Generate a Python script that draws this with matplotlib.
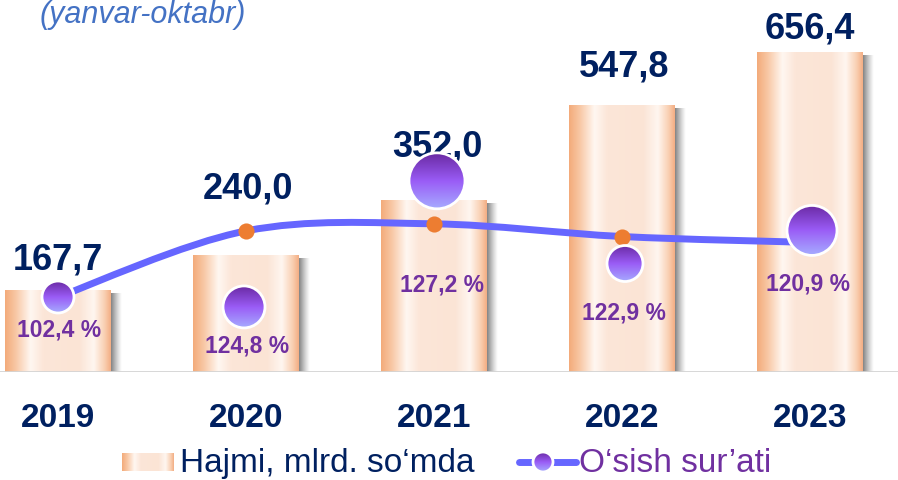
import numpy as np
import matplotlib.pyplot as plt
from matplotlib.colors import LinearSegmentedColormap
from matplotlib.patches import Ellipse, PathPatch
from matplotlib.path import Path

plt.rcParams['font.family'] = ['Liberation Sans', 'DejaVu Sans']

years = ['2019', '2020', '2021', '2022', '2023']
volume = [167.7, 240.0, 352.0, 547.8, 656.4]          # mlrd. so'm
growth = [102.4, 124.8, 127.2, 122.9, 120.9]          # %
volume_labels = ['167,7', '240,0', '352,0', '547,8', '656,4']
growth_labels = ['102,4 %', '124,8 %', '127,2 %', '122,9 %', '120,9 %']

# label / bubble placement in pixels (as in the original slide)
vol_off = [(0, 21), (2, 57), (3, 44), (2, 29), (0, 14)]
pct_off = [(1, -40), (1, -122), (8, -68), (2, -83), (-2, -48)]
bub_off = [(0, 0), (-2, -76), (3, 43), (3, -27), (2, 12)]
bub_r = [16, 21, 28, 18, 25]

NAVY = '#002060'
PURPLE = '#7030a0'
LINE = '#6666ff'
ORANGE = '#ed7d31'

W, H = 898, 480
fig = plt.figure(figsize=(W / 100, H / 100), dpi=100)
base = 108
ax = fig.add_axes([0, base / H, 1, 1 - base / H])
x = np.arange(len(years))
xlim = (-58 / 188, (W - 58) / 188)
ylim = (0, (H - base) / 0.486)
ax.set_xlim(xlim)
ax.set_ylim(ylim)
for s in ax.spines.values():
    s.set_visible(False)
ax.set_yticks([])
ax.set_xticks(x, years, fontsize=24, fontweight='bold', color=NAVY)
ax.tick_params(axis='x', length=0, pad=22)

bar_cmap = LinearSegmentedColormap.from_list('bar', [
    (0, '#f3ab7a'), (0.1, '#f8c7a4'), (0.24, '#fff7f1'), (0.36, '#fce6d8'),
    (0.7, '#fbe4d5'), (0.84, '#fff6f0'), (0.94, '#f9d0b3'), (1, '#f3ae84')])
ramp = np.linspace(0, 1, 256).reshape(1, -1)

bars = ax.bar(x, volume, width=0.56, facecolor='none', edgecolor='none')
px_x = 188
px_y = 0.486
shadow = np.zeros((1, 64, 4))
shadow[..., :3] = 0.45
shadow[..., 3] = np.linspace(0.9, 0, 64) ** 1.2
for b in bars:
    x0, w, h = b.get_x(), b.get_width(), b.get_height()
    ax.imshow(shadow, extent=[x0 + w, x0 + w + 11 / px_x, 0, h - 3 / px_y],
              aspect='auto', zorder=1.5, interpolation='bilinear')
    ax.imshow(ramp, extent=[x0, x0 + w, 0, h], cmap=bar_cmap, aspect='auto',
              zorder=2, interpolation='bilinear')
ax.axhline(0, color='#d4d4d4', lw=2, zorder=2.5)

for i, (v, lab) in enumerate(zip(volume, volume_labels)):
    ax.annotate(lab, (i, v), xytext=vol_off[i], textcoords='offset pixels',
                ha='center', va='baseline', fontsize=26, fontweight='bold',
                color=NAVY, zorder=3)
ax.set_xlim(xlim)
ax.set_ylim(ylim)

# growth line on secondary axis
ax2 = ax.twinx()
g_px = 2.95
g0 = 102.4 - 75 / g_px
ylim2 = (g0, g0 + (H - base) / g_px)
ax2.set_ylim(ylim2)
ax2.set_xlim(xlim)
ax2.axis('off')

pts = np.column_stack([x, growth]).astype(float)
ext = np.vstack([pts[0], pts, pts[-1]])
verts = [tuple(pts[0])]
codes = [Path.MOVETO]
for k in range(1, len(ext) - 2):
    p0, p1, p2, p3 = ext[k - 1], ext[k], ext[k + 1], ext[k + 2]
    c1 = p1 + (p2 - p0) / 6
    c2 = p2 - (p3 - p1) / 6
    verts += [tuple(c1), tuple(c2), tuple(p2)]
    codes += [Path.CURVE4] * 3
ax2.add_patch(PathPatch(Path(verts, codes), facecolor='none', edgecolor=LINE,
                        lw=5, capstyle='round', zorder=3))
ax2.scatter(x, growth, s=135, color=ORANGE, zorder=4, linewidths=0)

bub_cmap = LinearSegmentedColormap.from_list('bub', [
    (0, '#6a2aa3'), (0.5, '#9a5cf6'), (1, '#a6acff')])
vramp = np.linspace(0, 1, 128).reshape(-1, 1)
for i, g in enumerate(growth):
    cx = i + bub_off[i][0] / px_x
    cy = g + bub_off[i][1] / g_px
    rw, rh = bub_r[i] / px_x, bub_r[i] / g_px
    e = Ellipse((cx, cy), 2 * rw, 2 * rh, facecolor='none', edgecolor='white',
                lw=2, zorder=6)
    ax2.add_patch(e)
    im = ax2.imshow(vramp, extent=[cx - rw, cx + rw, cy - rh, cy + rh],
                    cmap=bub_cmap, aspect='auto', zorder=5, interpolation='bilinear')
    im.set_clip_path(e)

for i, (g, lab) in enumerate(zip(growth, growth_labels)):
    ax2.annotate(lab, (i, g), xytext=pct_off[i], textcoords='offset pixels',
                 ha='center', va='baseline', fontsize=16.5, fontweight='bold',
                 color=PURPLE, zorder=7)
ax2.set_xlim(xlim)
ax2.set_ylim(ylim2)

# title and legend in pixel space
ov = fig.add_axes([0, 0, 1, 1], zorder=10)
ov.set_xlim(0, W)
ov.set_ylim(H, 0)
ov.axis('off')
ov.patch.set_visible(False)
ov.text(40, 23, '(yanvar-oktabr)', fontsize=22, style='italic', color='#4472c4',
        va='baseline', ha='left')
ov.imshow(ramp, extent=[122, 174, 471, 453], cmap=bar_cmap, aspect='auto',
          interpolation='bilinear')
ov.text(180, 472, 'Hajmi, mlrd. so\u2018mda', fontsize=24, color=NAVY,
        va='baseline', ha='left')
ov.plot([519, 576], [462, 462], color=LINE, lw=5, solid_capstyle='round')
le = Ellipse((543, 462), 20, 20, facecolor='none', edgecolor='white', lw=2, zorder=3)
ov.add_patch(le)
lim = ov.imshow(vramp, extent=[533, 553, 472, 452], cmap=bub_cmap, aspect='auto',
                zorder=2, interpolation='bilinear')
lim.set_clip_path(le)
ov.text(579, 472, 'O\u2018sish sur\u2019ati', fontsize=24, color=PURPLE,
        va='baseline', ha='left')
ov.set_xlim(0, W)
ov.set_ylim(H, 0)

fig.savefig('out.png', dpi=100)
